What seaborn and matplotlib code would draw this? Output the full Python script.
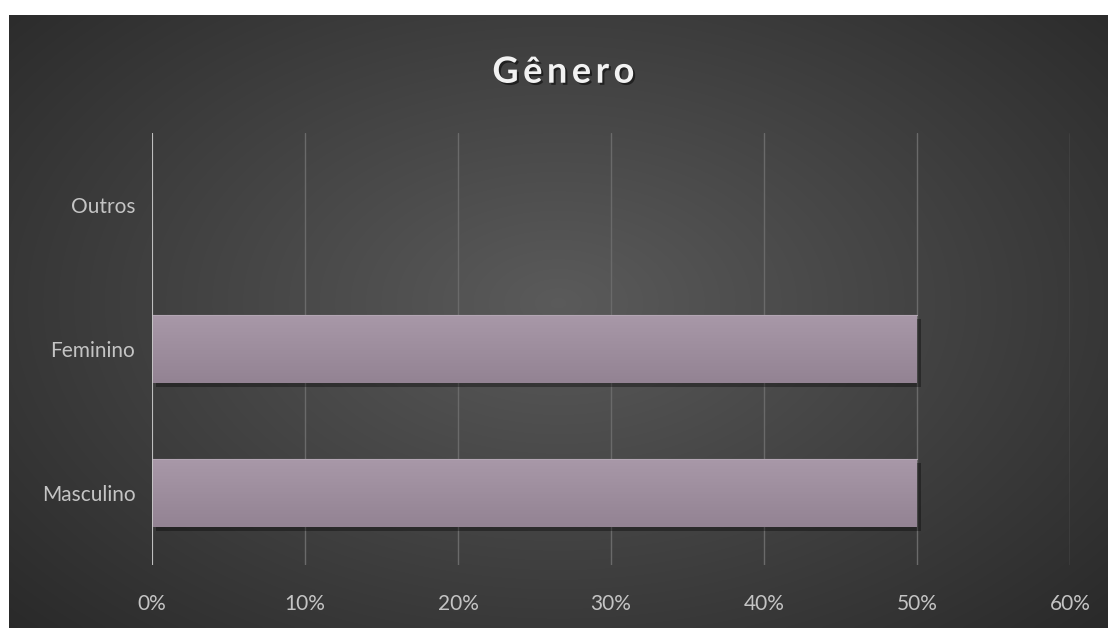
import numpy as np
import matplotlib
matplotlib.use("Agg")
import matplotlib.pyplot as plt
import matplotlib.patheffects as pe
from matplotlib.ticker import FuncFormatter, MultipleLocator
import seaborn as sns
import pandas as pd

# dados
categorias = ["Outros", "Feminino", "Masculino"]
valores = [0.0, 50.0, 50.0]

df = pd.DataFrame({"genero": categorias, "pct": valores})

sns.set_style("white")
plt.rcParams["font.family"] = ["Lato", "DejaVu Sans"]

fig = plt.figure(figsize=(11.09, 6.28), dpi=100, facecolor="white")

# fundo escuro com gradiente radial
bg = fig.add_axes([9 / 1109, 0, 1099 / 1109, 613 / 628], zorder=-5)
yy, xx = np.mgrid[0:1:300j, 0:1:540j]
r = np.sqrt(((xx - 0.5) / 0.75) ** 2 + ((yy - 0.47) / 0.85) ** 2)
shade = np.clip(0.355 - 0.21 * r, 0.14, 0.36)
bg.imshow(np.dstack([shade] * 3), aspect="auto", extent=[0, 1, 0, 1], interpolation="bilinear")
bg.set_axis_off()

ax = fig.add_axes([152 / 1109, 63 / 628, 918 / 1109, 432 / 628])
ax.patch.set_alpha(0)

sns.barplot(data=df, x="pct", y="genero", orient="h", width=0.47,
            color="#a393a3", edgecolor="none", linewidth=0, ax=ax, zorder=3)

# gradiente e sombra das barras
grad = np.linspace(0, 1, 64)[:, None]
cmap = matplotlib.colors.LinearSegmentedColormap.from_list("barra", ["#a898a8", "#938393"])
for p in ax.patches:
    if p.get_width() <= 0:
        continue
    p.set_path_effects([pe.SimplePatchShadow(offset=(3, -3), shadow_rgbFace="black", alpha=0.35),
                        pe.Normal()])
    x0, y0 = p.get_x(), p.get_y()
    w, h = p.get_width(), p.get_height()
    im = ax.imshow(grad, cmap=cmap, aspect="auto", extent=[x0, x0 + w, y0 + h, y0],
                   zorder=4, interpolation="bilinear")
    im.set_clip_path(p)
    ax.plot([x0, x0 + w], [y0, y0], color="#b3a6b3", lw=0.8, zorder=5)

ax.set_xlim(0, 60)
ax.set_ylim(2.5, -0.5)
ax.xaxis.set_major_locator(MultipleLocator(10))
ax.xaxis.set_major_formatter(FuncFormatter(lambda v, _: f"{v:.0f}%"))
ax.grid(axis="x", color="#6a6a6a", lw=1, zorder=0)
ax.axvline(0, color="#c8c8c8", lw=1.3, zorder=6)
for s in ax.spines.values():
    s.set_visible(False)
ax.tick_params(axis="both", length=0, colors="#c4c4c4", labelsize=15)
ax.tick_params(axis="x", pad=21)
ax.tick_params(axis="y", pad=12)
ax.set_xlabel("")
ax.set_ylabel("")

fig.text(0.508, 0.885, "G ê n e r o".replace(" ", "\u2009"), ha="center", va="center",
         fontsize=26, fontweight="bold", color="#f2f2f2",
         path_effects=[pe.withSimplePatchShadow(offset=(1.5, -1.5), shadow_rgbFace="black", alpha=0.5)])

fig.savefig("out.png", dpi=100, facecolor="white")
